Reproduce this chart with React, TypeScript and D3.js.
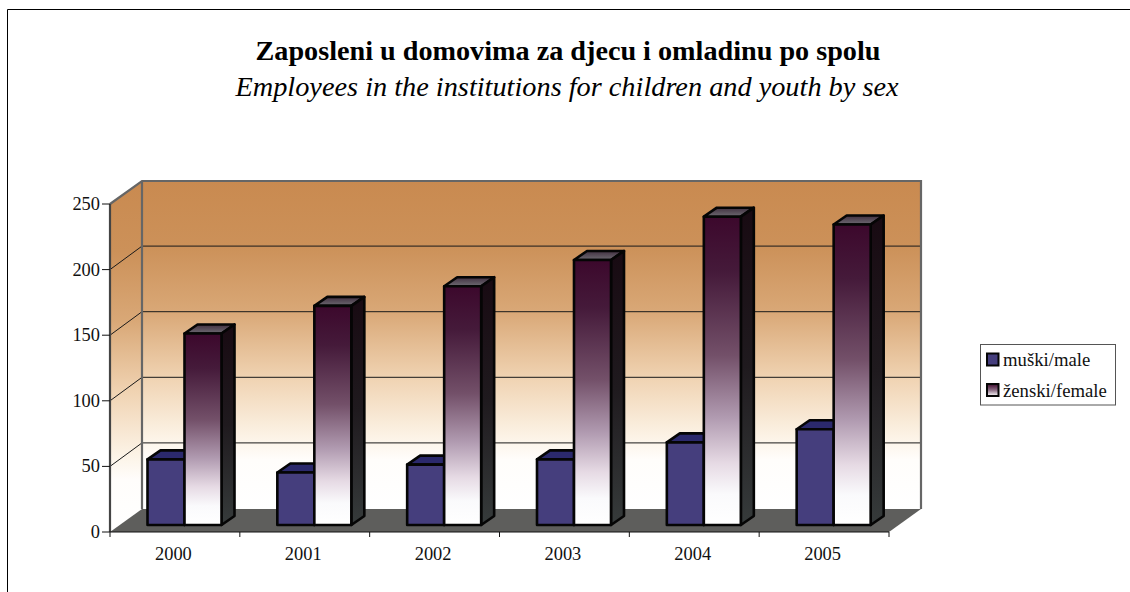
import React from "react";
import * as d3 from "d3";

const years = ["2000", "2001", "2002", "2003", "2004", "2005"];
const male = [50, 40, 46, 50, 63, 73];
const female = [146, 167, 182, 202, 235, 229];
const yTicks = [0, 50, 100, 150, 200, 250];
const titleMain = "Zaposleni u domovima za djecu i omladinu po spolu";
const titleSub = "Employees in the institutions for children and youth by sex";
const legendLabels = ["muški/male", "ženski/female"];

const W = 1130, H = 592;
const font = "'Liberation Serif', serif";
const DX = 32, DY = -23;
const barDX = 13, barDY = -9;
const x0 = 110, x1 = 889, y0 = 532, yTop = 204;
const barBase = 525;

const xBand = d3.scaleBand<string>().domain(years).range([x0, x1]);
const yFront = d3.scaleLinear().domain([0, 250]).range([y0, yTop]);
const hScale = (v: number) => yFront(0) - yFront(v);
const pts = (a: [number, number][]) => a.map((p) => p.join(",")).join(" ");

function Box({ x, w, v, front, top, side }: { x: number; w: number; v: number; front: string; top: string; side: string }) {
  const yb = barBase, yt = barBase - hScale(v);
  const sw = 2.6, c = "#050505";
  return (
    <g stroke={c} strokeWidth={sw} strokeLinejoin="round">
      <polygon points={pts([[x, yt], [x + w, yt], [x + w + barDX, yt + barDY], [x + barDX, yt + barDY]])} fill={top} />
      <polygon points={pts([[x + w, yt], [x + w + barDX, yt + barDY], [x + w + barDX, yb + barDY], [x + w, yb]])} fill={side} />
      <rect x={x} y={yt} width={w} height={yb - yt} fill={front} />
    </g>
  );
}

export default function App() {
  const barW = 37;
  const tail = 37.5;
  return (
    <svg width={W} height={H} viewBox={`0 0 ${W} ${H}`} style={{ position: "absolute", left: 0, top: 0, background: "#fff" }} fontFamily={font}>
      <defs>
        <linearGradient id="wall" x1="0" y1="0" x2="0" y2="1">
          <stop offset="0" stopColor="#c98a50" />
          <stop offset="0.2" stopColor="#cc9159" />
          <stop offset="0.4" stopColor="#d9a877" />
          <stop offset="0.6" stopColor="#f0d3b2" />
          <stop offset="0.78" stopColor="#fcf3e6" />
          <stop offset="0.85" stopColor="#fffdfb" />
          <stop offset="1" stopColor="#ffffff" />
        </linearGradient>
        <linearGradient id="femaleFront" x1="0" y1="0" x2="0" y2="1">
          <stop offset="0" stopColor="#3c082c" />
          <stop offset="0.18" stopColor="#451a3a" />
          <stop offset="0.45" stopColor="#735069" />
          <stop offset="0.65" stopColor="#b09ab0" />
          <stop offset="0.8" stopColor="#e6dae4" />
          <stop offset="0.9" stopColor="#fafafc" />
          <stop offset="1" stopColor="#ffffff" />
        </linearGradient>
        <linearGradient id="femaleSide" x1="0" y1="0" x2="0" y2="1">
          <stop offset="0" stopColor="#180a12" />
          <stop offset="0.5" stopColor="#1f1a1e" />
          <stop offset="1" stopColor="#363b3b" />
        </linearGradient>
        <linearGradient id="femaleTop" x1="0" y1="0" x2="0" y2="1">
          <stop offset="0" stopColor="#413040" />
          <stop offset="1" stopColor="#6e6a72" />
        </linearGradient>
        <linearGradient id="legendFemale" x1="0" y1="0" x2="0" y2="1">
          <stop offset="0" stopColor="#3c082c" />
          <stop offset="0.5" stopColor="#8a6a82" />
          <stop offset="1" stopColor="#ffffff" />
        </linearGradient>
      </defs>

      {/* outer frame */}
      <path d={`M7.5 ${H} V9.5 H${W}`} fill="none" stroke="#000" strokeWidth={1} />

      {/* titles */}
      <text x={568} y={60} textAnchor="middle" fontSize={28.2} fontWeight="bold" fill="#000">{titleMain}</text>
      <text x={567} y={96} textAnchor="middle" fontSize={28.3} fontStyle="italic" fill="#000">{titleSub}</text>

      {/* side wall and back wall */}
      <polygon points={pts([[x0, y0], [x0 + DX, y0 + DY], [x0 + DX, yTop + DY], [x0, yTop]])} fill="url(#wall)" />
      <rect x={x0 + DX} y={yTop + DY} width={x1 - x0} height={y0 - yTop} fill="url(#wall)" />

      {/* floor */}
      <polygon points={pts([[x0, y0], [x0 + DX, y0 + DY], [x1 + DX, y0 + DY], [x1, y0]])} fill="#5e5e5c" />

      {/* gridlines */}
      {yTicks.filter((t) => t > 0 && t < 250).map((t) => (
        <g key={t} stroke="#1a1a1a" strokeWidth={1} fill="none">
          <line x1={x0} y1={yFront(t)} x2={x0 + DX} y2={yFront(t) + DY - 0.5} />
          <line x1={x0 + DX} y1={yFront(t) + DY - 0.5} x2={x1 + DX} y2={yFront(t) + DY - 0.5} />
        </g>
      ))}

      {/* wall edges */}
      <g stroke="#666" strokeWidth={2.2} fill="none">
        <polyline points={pts([[x0, yTop], [x0 + DX, yTop + DY], [x1 + DX, yTop + DY], [x1 + DX, y0 + DY]])} />
        <line x1={x0 + DX} y1={yTop + DY} x2={x0 + DX} y2={y0 + DY} />
        <line x1={x0} y1={yTop} x2={x0} y2={y0} stroke="#444" />
      </g>

      {/* bars */}
      {years.map((yr, i) => {
        const bx = (xBand(yr) as number) + tail;
        return (
          <g key={yr}>
            <Box x={bx} w={barW} v={male[i]} front="#453e7d" top="#2b296c" side="#1d1b50" />
            <Box x={bx + barW} w={barW} v={female[i]} front="url(#femaleFront)" top="url(#femaleTop)" side="url(#femaleSide)" />
          </g>
        );
      })}

      {/* axes */}
      <line x1={x0} y1={y0} x2={x1} y2={y0} stroke="#111" strokeWidth={1.2} />
      {d3.range(0, years.length + 1).map((i) => {
        const x = x0 + i * xBand.step();
        return <line key={i} x1={x} y1={y0} x2={x} y2={y0 + 5} stroke="#111" strokeWidth={1} />;
      })}
      {yTicks.map((t) => (
        <g key={t}>
          <line x1={x0 - 8} y1={yFront(t)} x2={x0} y2={yFront(t)} stroke="#111" strokeWidth={1} />
          <text x={x0 - 10} y={yFront(t) + 6} textAnchor="end" fontSize={18.4} fill="#111">{t}</text>
        </g>
      ))}
      {years.map((yr) => (
        <text key={yr} x={(xBand(yr) as number) + xBand.bandwidth() / 2 - 1.5} y={560} textAnchor="middle" fontSize={18.4} fill="#111">{yr}</text>
      ))}

      {/* legend */}
      <rect x={980.5} y={344.5} width={135} height={60.5} fill="#fff" stroke="#555" strokeWidth={1} />
      <rect x={987} y={353.5} width={11.5} height={12} fill="#453e7d" stroke="#050505" strokeWidth={2} />
      <rect x={987} y={384} width={11.5} height={12} fill="url(#legendFemale)" stroke="#050505" strokeWidth={2} />
      <text x={1003} y={366} fontSize={18.7} fill="#111">{legendLabels[0]}</text>
      <text x={1003} y={397} fontSize={18.7} fill="#111">{legendLabels[1]}</text>
    </svg>
  );
}
